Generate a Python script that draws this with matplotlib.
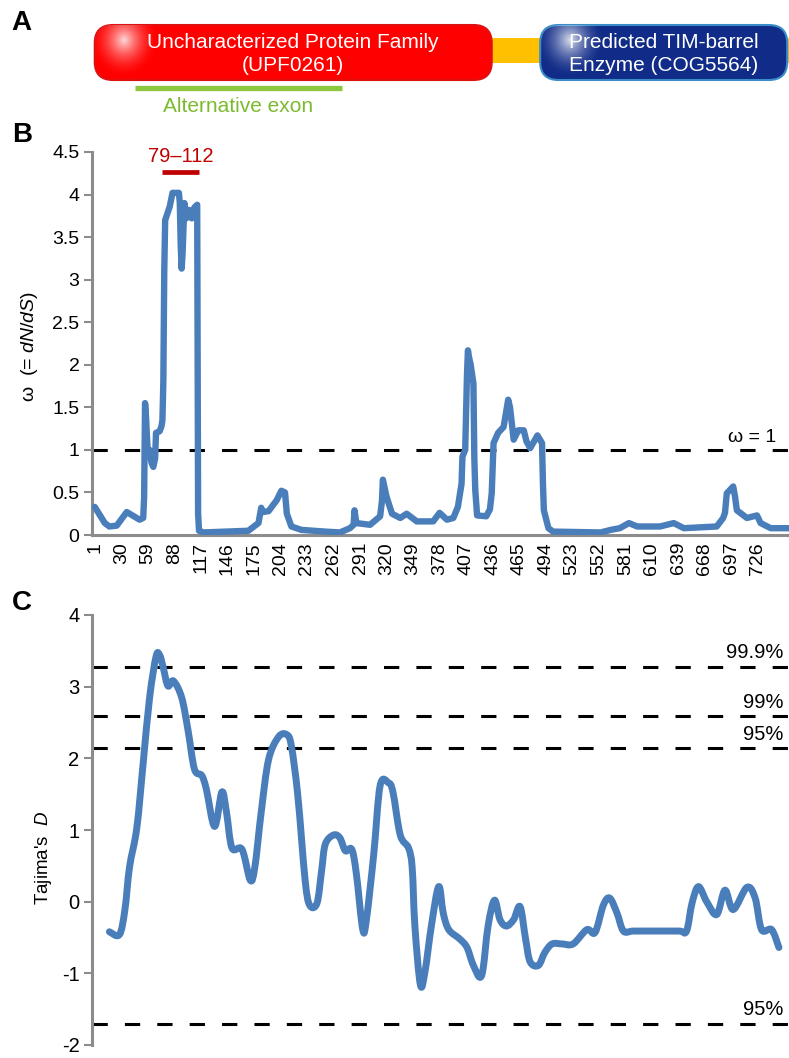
import numpy as np
import matplotlib.pyplot as plt
from matplotlib.patches import FancyBboxPatch, PathPatch
from matplotlib.path import Path

plt.rcParams['font.family'] = ['Liberation Sans', 'DejaVu Sans']
plt.rcParams['mathtext.fontset'] = 'custom'
plt.rcParams['mathtext.rm'] = 'Liberation Sans'
plt.rcParams['mathtext.it'] = 'Liberation Sans:italic'
plt.rcParams['axes.unicode_minus'] = False

# ---- panel A: domain architecture (residue numbers)
protein_len = 760
domain_labels = ['Uncharacterized Protein Family\n(UPF0261)', 'Predicted TIM-barrel\nEnzyme (COG5564)']
domain_start = [1, 488]
domain_end = [435, 758]
domain_face = ['#ff0000', '#112c88']
domain_edge = ['#e01010', '#3a8cc8']
exon_start = 45
exon_end = 271

# ---- panel B: omega (dN/dS) along the protein
omega_pos = [1, 12, 17, 25, 36, 50, 54, 55, 56, 57, 59, 61, 63, 65, 67, 68, 72, 74, 75, 76,
             77, 78, 83, 86, 93, 94, 95, 96, 97, 99, 101, 104, 107, 110, 113, 114, 115, 120,
             169, 175, 180, 183, 185, 191, 200, 205, 209, 211, 216, 227, 253, 269, 280, 284,
             285, 287, 302, 313, 315, 316, 320, 326, 335, 342, 353, 371, 378, 386, 393, 398,
             402, 403, 406, 408, 409, 410, 412, 415, 416, 417, 419, 429, 433, 435, 437, 442,
             448, 453, 455, 459, 464, 470, 473, 477, 485, 490, 491, 492, 497, 502, 554, 565,
             575, 585, 594, 619, 634, 645, 681, 688, 690, 692, 699, 701, 703, 714, 725, 729,
             740, 760]
omega_val = [0.33, 0.14, 0.10, 0.11, 0.27, 0.18, 0.20, 0.45, 1.55, 1.40, 0.95, 1.00, 0.85, 0.80,
             0.90, 1.20, 1.22, 1.28, 1.35, 1.80, 3.10, 3.70, 3.86, 4.02, 4.02, 3.90, 3.40, 3.13,
             3.30, 3.90, 3.72, 3.82, 3.72, 3.85, 3.88, 0.25, 0.05, 0.03, 0.05, 0.10, 0.14, 0.32,
             0.27, 0.28, 0.41, 0.52, 0.50, 0.25, 0.10, 0.06, 0.04, 0.03, 0.08, 0.12, 0.29, 0.14,
             0.12, 0.22, 0.40, 0.65, 0.45, 0.25, 0.20, 0.25, 0.16, 0.16, 0.26, 0.18, 0.20, 0.33,
             0.60, 0.92, 1.00, 1.90, 2.17, 2.10, 2.00, 1.78, 0.90, 0.53, 0.23, 0.22, 0.30, 0.49,
             1.08, 1.20, 1.27, 1.59, 1.50, 1.12, 1.23, 1.23, 1.10, 1.02, 1.17, 1.08, 0.60, 0.29,
             0.08, 0.04, 0.03, 0.06, 0.08, 0.14, 0.10, 0.10, 0.14, 0.08, 0.10, 0.20, 0.26, 0.49,
             0.57, 0.45, 0.29, 0.20, 0.23, 0.14, 0.08, 0.08]
omega_ticks = [1, 30, 59, 88, 117, 146, 175, 204, 233, 262, 291, 320, 349, 378, 407, 436,
               465, 494, 523, 552, 581, 610, 639, 668, 697, 726]
site_range = (75, 115)
site_label = '79\u2013112'

# ---- panel C: Tajima's D along the protein
tajima_pos = [17, 28, 34, 39, 47, 54, 61, 68, 72, 76, 81, 87, 96, 103, 110, 118, 123, 132, 140,
              145, 151, 162, 171, 176, 183, 191, 202, 211, 216, 223, 231, 236, 244, 249, 253,
              262, 269, 275, 282, 287, 294, 298, 306, 313, 322, 327, 335, 344, 348, 351, 357,
              362, 369, 377, 382, 388, 400, 408, 415, 424, 431, 438, 444, 451, 459, 466, 472,
              477, 486, 493, 501, 512, 524, 539, 548, 557, 564, 572, 579, 590, 615, 640, 648,
              654, 661, 670, 681, 690, 699, 714, 723, 730, 741, 749]
tajima_val = [-0.42, -0.46, -0.11, 0.48, 1.03, 1.94, 2.85, 3.42, 3.44, 3.26, 3.01, 3.08, 2.85,
              2.39, 1.85, 1.76, 1.57, 1.05, 1.53, 1.25, 0.75, 0.73, 0.30, 0.48, 1.25, 1.98, 2.30,
              2.33, 2.17, 1.48, 0.30, -0.05, -0.02, 0.43, 0.80, 0.93, 0.89, 0.71, 0.73, 0.39,
              -0.39, -0.25, 0.66, 1.62, 1.66, 1.53, 0.93, 0.75, 0.48, -0.34, -1.16, -0.98, -0.34,
              0.21, -0.16, -0.39, -0.52, -0.64, -0.89, -1.03, -0.34, 0.02, -0.25, -0.34, -0.25,
              -0.07, -0.52, -0.84, -0.89, -0.71, -0.59, -0.59, -0.59, -0.39, -0.43, -0.05, 0.05,
              -0.16, -0.41, -0.41, -0.41, -0.41, -0.41, -0.02, 0.21, 0.00, -0.18, 0.16, -0.11,
              0.20, 0.05, -0.39, -0.39, -0.64]
tajima_thresholds = [3.28, 2.59, 2.14, -1.70]
tajima_labels = ['99.9%', '99%', '95%', '95%']

W, H = 789, 1058
blue = '#4a7ebb'
gray = '#8c8c8c'


def box(l, t, r, b):
    return [l / W, 1 - b / H, (r - l) / W, (b - t) / H]


def smooth_path(xs, ys):
    # Excel-style smoothed line: cubic bezier through every point (Catmull-Rom tangents)
    p = np.column_stack([xs, ys]).astype(float)
    ext = np.vstack([p[0], p, p[-1]])
    verts = [p[0]]
    codes = [Path.MOVETO]
    for i in range(len(p) - 1):
        c1 = ext[i + 1] + (ext[i + 2] - ext[i]) / 6
        c2 = ext[i + 2] - (ext[i + 3] - ext[i + 1]) / 6
        verts += [c1, c2, p[i + 1]]
        codes += [Path.CURVE4] * 3
    return Path(verts, codes)


fig = plt.figure(figsize=(W / 100, H / 100), dpi=100)
xlim = (-2, protein_len)

# ---------------- A
ax_a = fig.add_axes(box(92, 0, 789, 130))
ax_a.axis('off')
ax_a.plot([0, protein_len], [49.5, 49.5], color='#ffc000', lw=18, solid_capstyle='butt', zorder=1)

n = 120
gy, gx = np.mgrid[-1:1:n * 1j, -1:1:n * 1j]
glow = np.zeros((n, n, 4))
glow[..., :3] = 1
glow[..., 3] = np.clip(1 - np.hypot(gx, gy), 0, 1) ** 1.8 * 0.85

for lab, s, e, fc, ec in zip(domain_labels, domain_start, domain_end, domain_face, domain_edge):
    patch = FancyBboxPatch((s, 25), e - s, 55, boxstyle='round,pad=0,rounding_size=20',
                           mutation_aspect=0.9, fc=fc, ec=ec, lw=1.5, zorder=2)
    ax_a.add_patch(patch)
    im = ax_a.imshow(glow, extent=(s - 6, s + 70, 78, 2), aspect='auto', zorder=3)
    im.set_clip_path(patch)
    ax_a.text((s + e) / 2, 54, lab, ha='center', va='center', color='white',
              fontsize=15, linespacing=1.3, zorder=4)

ax_a.plot([exon_start, exon_end], [88, 88], color='#8dc63f', lw=3.8, solid_capstyle='butt')
ax_a.text((exon_start + exon_end) / 2, 106, 'Alternative exon', ha='center', va='center',
          color='#7cbb2e', fontsize=15)
ax_a.set_xlim(xlim)
ax_a.set_ylim(130, 0)

# ---------------- B
ax_b = fig.add_axes(box(92, 152, 789, 535))
ax_b.plot(omega_pos, omega_val, color=blue, lw=4.6, solid_joinstyle='round',
          solid_capstyle='round', zorder=3)
ax_b.axhline(1, color='black', lw=2.2, dashes=(5, 5.6), zorder=2)
ax_b.annotate('\u03c9 = 1', xy=(1, 1), xycoords=('axes fraction', 'data'), xytext=(-9, 3),
              textcoords='offset points', ha='right', va='bottom', fontsize=14)
ax_b.plot(site_range, [4.27, 4.27], color='#c00000', lw=3.4, solid_capstyle='butt', clip_on=False)
ax_b.text(sum(site_range) / 2, 4.34, site_label, color='#c00000', ha='center', va='bottom',
          fontsize=14.5)
ax_b.set_xlim(xlim)
ax_b.set_ylim(0, 4.5)
ax_b.set_yticks(np.arange(0, 4.51, 0.5))
ax_b.set_yticklabels(['%g' % v for v in np.arange(0, 4.51, 0.5)])
ax_b.set_xticks(omega_ticks)
ax_b.set_xticklabels([str(t) for t in omega_ticks], rotation=90)
ax_b.tick_params(axis='y', length=6, width=1.5, color=gray, labelsize=14, pad=3)
ax_b.tick_params(axis='x', length=0, labelsize=14, pad=5)
for side in ['top', 'right']:
    ax_b.spines[side].set_visible(False)
for side in ['left', 'bottom']:
    ax_b.spines[side].set_color(gray)
    ax_b.spines[side].set_linewidth(2.2)
fig.text(30 / W, 1 - 347 / H, '\u03c9  (= $\\mathit{dN/dS}$)', rotation=90, ha='center',
         va='center', fontsize=14)

# ---------------- C
ax_c = fig.add_axes(box(92, 615, 789, 1045))
ax_c.add_patch(PathPatch(smooth_path(tajima_pos, tajima_val), fill=False, edgecolor=blue,
                         lw=5, capstyle='round', joinstyle='round', zorder=3))
for thr, lab in zip(tajima_thresholds, tajima_labels):
    ax_c.axhline(thr, color='black', lw=2.2, dashes=(5, 5.6), zorder=2)
    ax_c.annotate(lab, xy=(1, thr), xycoords=('axes fraction', 'data'), xytext=(-4, 3),
                  textcoords='offset points', ha='right', va='bottom', fontsize=14.5)
ax_c.set_xlim(xlim)
ax_c.set_ylim(-2, 4)
ax_c.set_yticks(range(-2, 5))
ax_c.set_xticks([])
ax_c.tick_params(axis='y', length=6, width=1.5, color=gray, labelsize=14.5, pad=3)
for side in ['top', 'right', 'bottom']:
    ax_c.spines[side].set_visible(False)
ax_c.spines['left'].set_color(gray)
ax_c.spines['left'].set_linewidth(2.2)
fig.text(43 / W, 1 - 858 / H, "Tajima's  $\\mathit{D}$", rotation=90, ha='center', va='center',
         fontsize=13.5)

# panel letters
for letter, (px, py) in zip('ABC', [(21, 23), (22, 135), (22, 603)]):
    fig.text(px / W, 1 - py / H, letter, fontsize=20, fontweight='bold', ha='center', va='center')

fig.savefig('out.png', dpi=100)
